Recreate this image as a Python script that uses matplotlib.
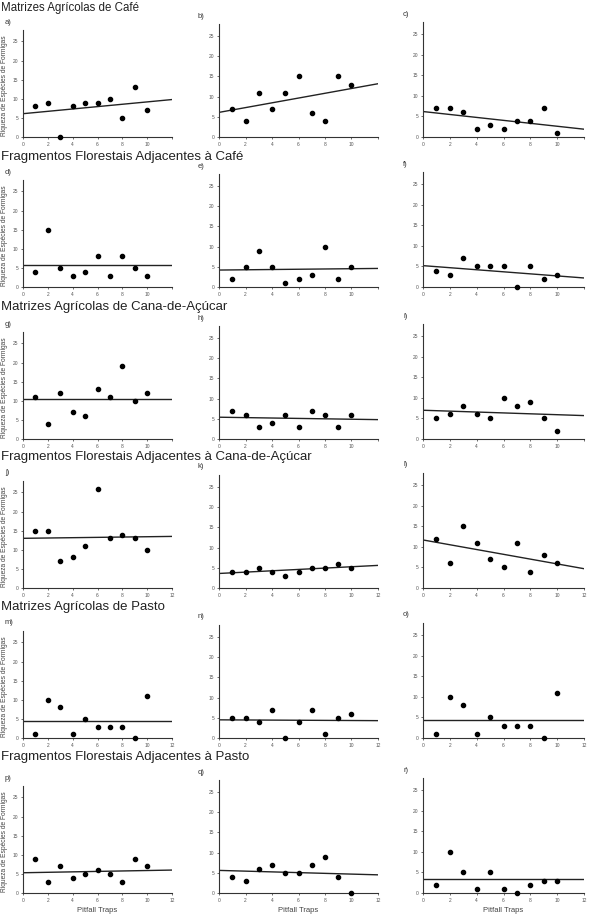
import matplotlib
matplotlib.use("Agg")
import matplotlib.pyplot as plt
import numpy as np

plt.rcParams['font.family'] = ['Liberation Sans', 'DejaVu Sans']

section_titles = [
    "Matrizes Agrícolas de Café",
    "Fragmentos Florestais Adjacentes à Café",
    "Matrizes Agrícolas de Cana-de-Açúcar",
    "Fragmentos Florestais Adjacentes à Cana-de-Açúcar",
    "Matrizes Agrícolas de Pasto",
    "Fragmentos Florestais Adjacentes à Pasto",
]
panel_labels = ["a)", "b)", "c)", "d)", "e)", "f)", "g)", "h)", "i)",
                "j)", "k)", "l)", "m)", "n)", "o)", "p)", "q)", "r)"]

traps = [1, 2, 3, 4, 5, 6, 7, 8, 9, 10]

richness_a = [8, 9, 0, 8, 9, 9, 10, 5, 13, 7]
richness_b = [7, 4, 11, 7, 11, 15, 6, 4, 15, 13]
richness_c = [7, 7, 6, 2, 3, 2, 4, 4, 7, 1]
richness_d = [4, 15, 5, 3, 4, 8, 3, 8, 5, 3]
richness_e = [2, 5, 9, 5, 1, 2, 3, 10, 2, 5]
richness_f = [4, 3, 7, 5, 5, 5, 0, 5, 2, 3]
richness_g = [11, 4, 12, 7, 6, 13, 11, 19, 10, 12]
richness_h = [7, 6, 3, 4, 6, 3, 7, 6, 3, 6]
richness_i = [5, 6, 8, 6, 5, 10, 8, 9, 5, 2]
richness_j = [15, 15, 7, 8, 11, 26, 13, 14, 13, 10]
richness_k = [4, 4, 5, 4, 3, 4, 5, 5, 6, 5]
richness_l = [12, 6, 15, 11, 7, 5, 11, 4, 8, 6]
richness_m = [1, 10, 8, 1, 5, 3, 3, 3, 0, 11]
richness_n = [5, 5, 4, 7, 0, 4, 7, 1, 5, 6]
richness_o = [1, 10, 8, 1, 5, 3, 3, 3, 0, 11]
richness_p = [9, 3, 7, 4, 5, 6, 5, 3, 9, 7]
richness_q = [4, 3, 6, 7, 5, 5, 7, 9, 4, 0]
richness_r = [2, 10, 5, 1, 5, 1, 0, 2, 3, 3]

# regression line values at x=0 and x=12
line_start = [6.1, 6.1, 6.2, 5.8, 4.2, 5.2, 10.5, 5.4, 7.0,
              13.0, 3.6, 11.7, 4.5, 4.5, 4.5, 5.3, 5.6, 3.3]
line_end = [9.8, 13.2, 1.9, 5.8, 4.6, 2.2, 10.5, 4.8, 5.7,
            13.5, 5.6, 4.7, 4.5, 4.3, 4.5, 6.0, 4.5, 3.3]

richness = [richness_a, richness_b, richness_c, richness_d, richness_e, richness_f,
            richness_g, richness_h, richness_i, richness_j, richness_k, richness_l,
            richness_m, richness_n, richness_o, richness_p, richness_q, richness_r]

line_x = [0, 12]
y_ticks = [0, 5, 10, 15, 20, 25]
x_ticks = [0, 2, 4, 6, 8, 10, 12]

W, H = 591, 923
fig = plt.figure(figsize=(W / 100, H / 100), dpi=100)

row_bottoms = [137, 287, 439, 588, 738, 893]
col_lr = [(23, 172), (219, 378), (423, 584)]
col_h = [107, 113, 115]
title_y = [8, 157, 307, 457, 607, 757]
title_fs = [8.3, 9.5, 9.5, 9.5, 9.5, 9.5]
label_x = [5, 198, 403]

for r in range(6):
    fig.text(1 / W, 1 - title_y[r] / H, section_titles[r], fontsize=title_fs[r],
             color='#222222', va='center', ha='left')
    for c in range(3):
        i = r * 3 + c
        l, rr = col_lr[c]
        b = row_bottoms[r]
        t = b - col_h[c]
        ax = fig.add_axes([l / W, 1 - b / H, (rr - l) / W, (b - t) / H])
        ax.scatter(traps, richness[i], s=9, color='black', zorder=3, clip_on=False)
        ax.plot(line_x, [line_start[i], line_end[i]], color='#222222', lw=1.0)
        ax.set_xlim(0, 12)
        ax.set_ylim(0, 28)
        ax.set_yticks(y_ticks)
        ax.set_xticks(x_ticks)
        if r < 3:
            ax.set_xticklabels(['0', '2', '4', '6', '8', '10', ''])
        for s in ['top', 'right']:
            ax.spines[s].set_visible(False)
        for s in ['left', 'bottom']:
            ax.spines[s].set_linewidth(0.8)
            ax.spines[s].set_color('#333333')
        ax.tick_params(labelsize=3.5, length=1.5, width=0.5, pad=2,
                       colors='#333333', labelcolor='#555555')
        fig.text(label_x[c] / W, 1 - (t - 8) / H, panel_labels[i], fontsize=5.5,
                 color='#333333', va='center')
        if c == 0:
            ax.set_ylabel("Riqueza de Espécies de Formigas", fontsize=4.8,
                          color='#444444')
            ax.yaxis.set_label_coords((8 - l) / (rr - l), 0.48)
        if r == 5:
            ax.set_xlabel("Pitfall Traps", fontsize=5.5, color='#444444', labelpad=3)

fig.savefig("out.png", dpi=100)
